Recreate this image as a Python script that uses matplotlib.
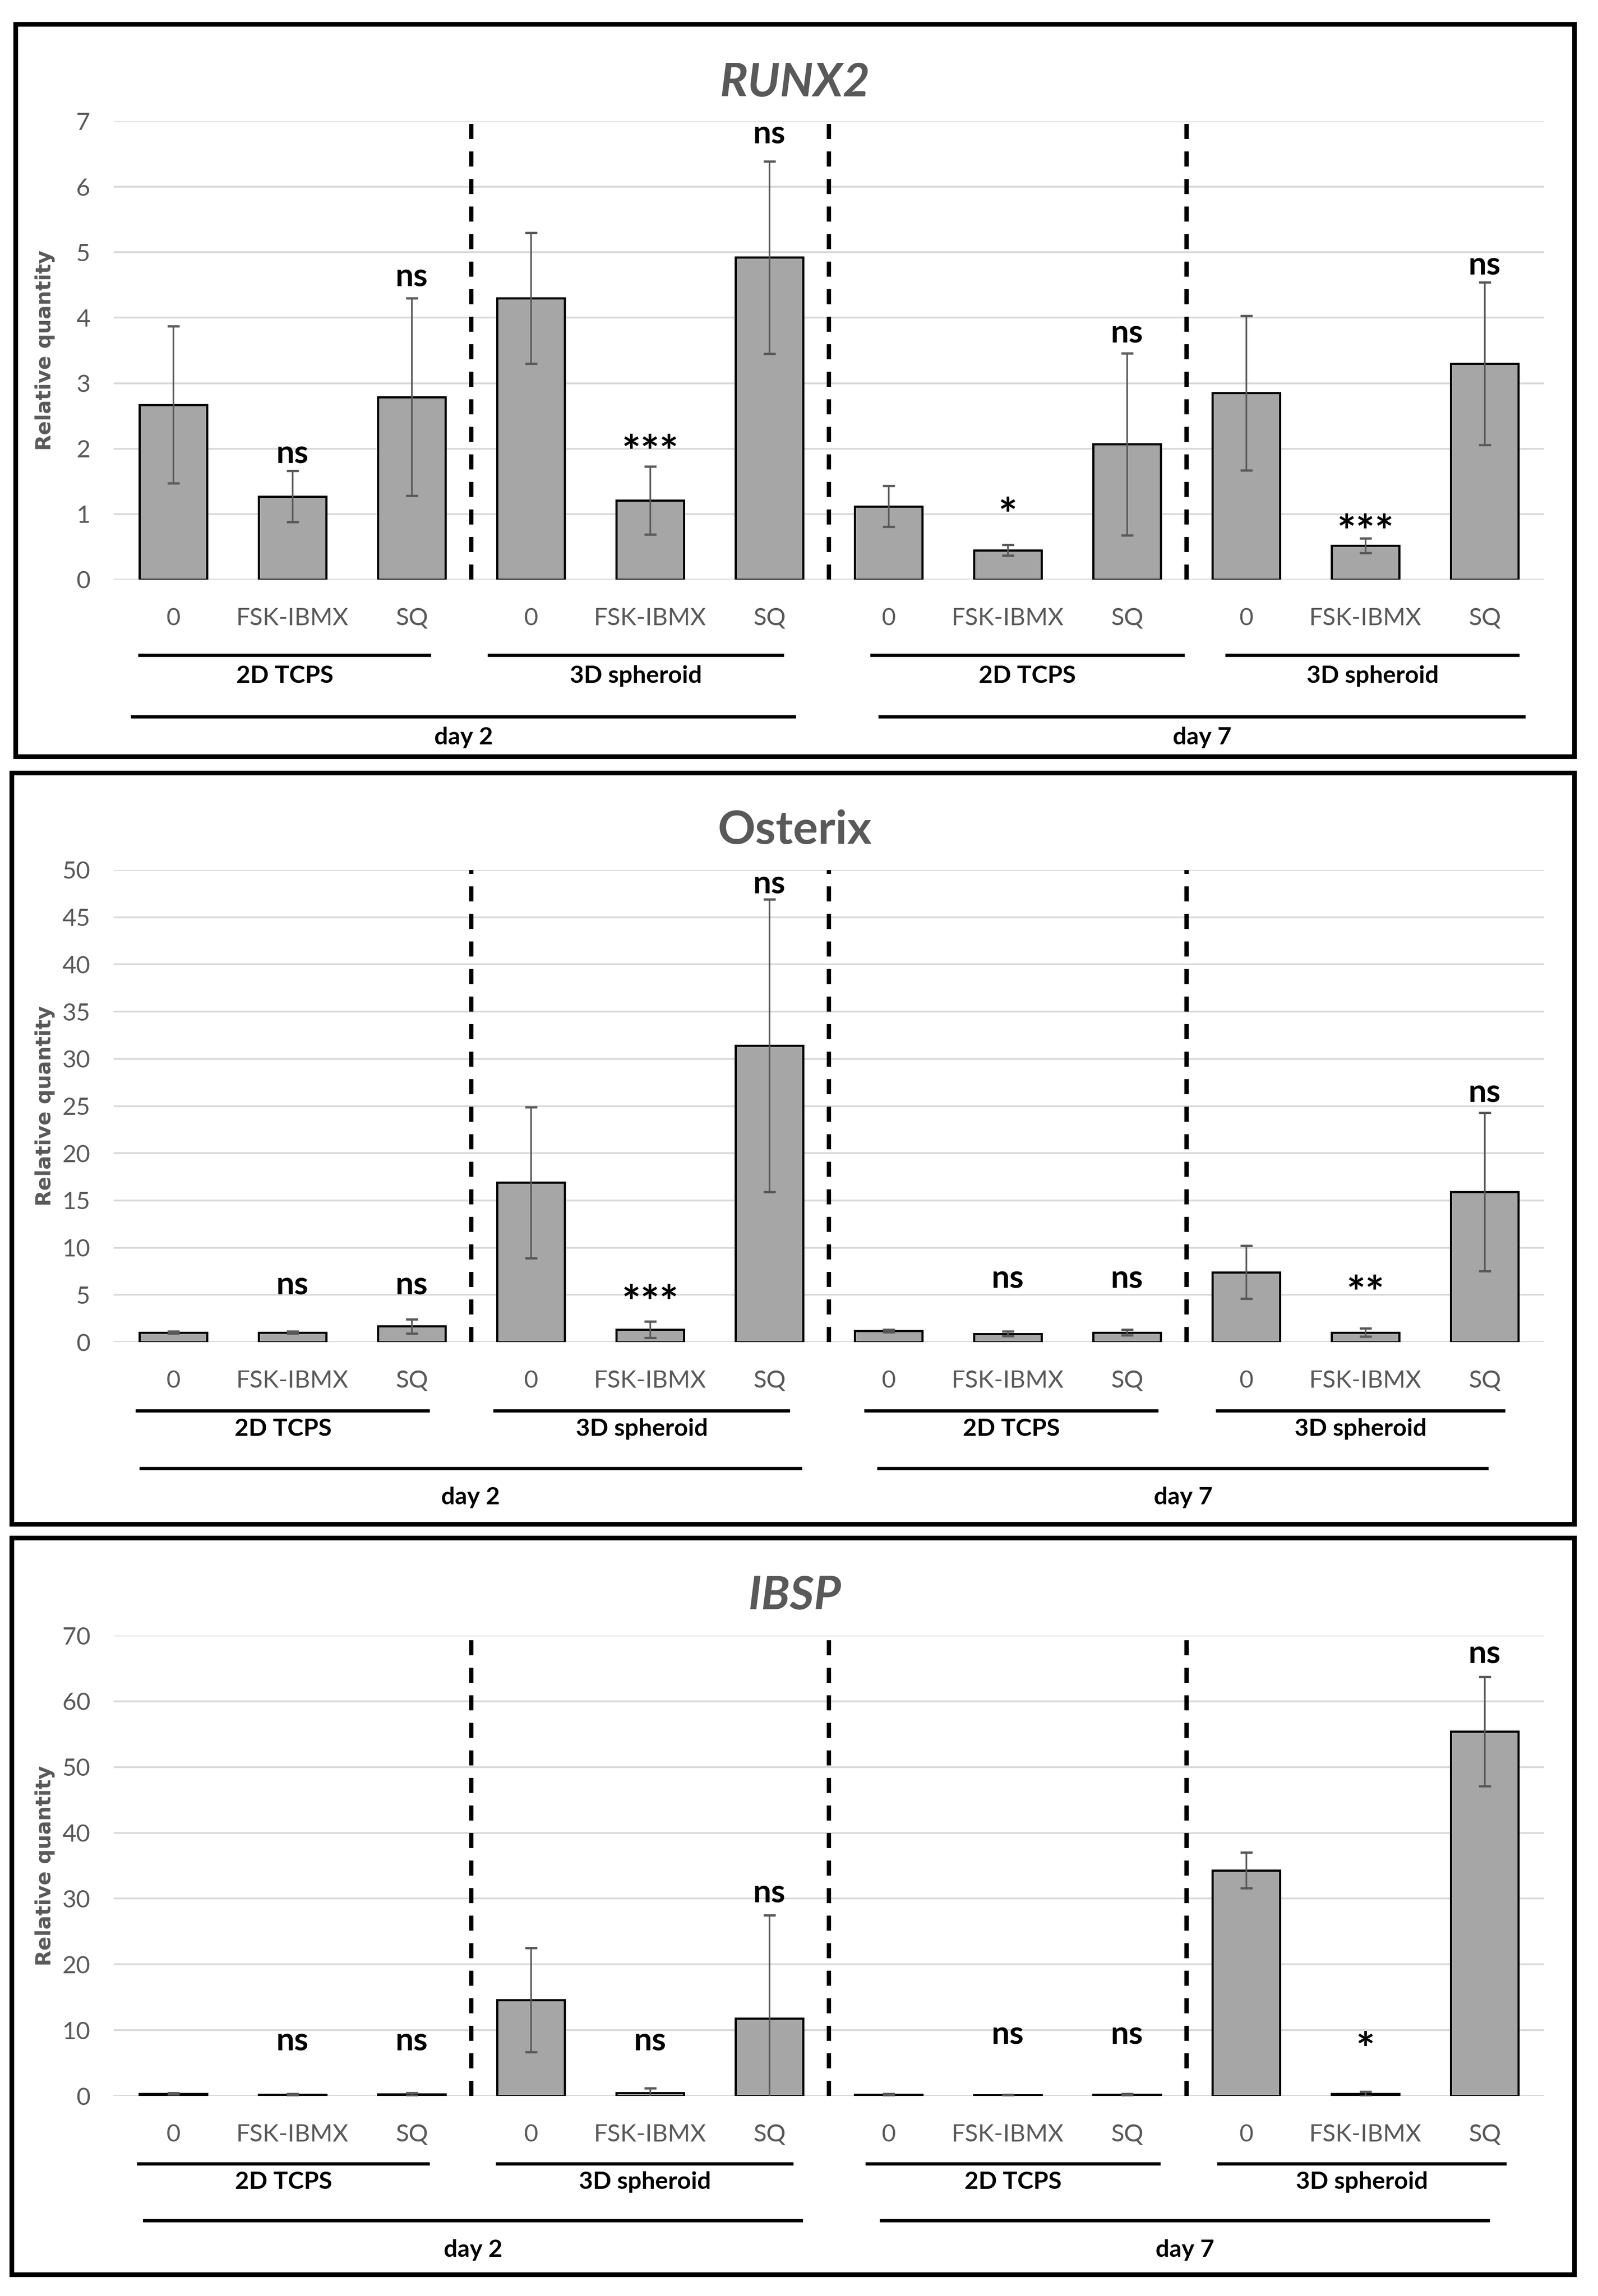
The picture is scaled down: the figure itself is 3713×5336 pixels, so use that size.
import matplotlib
matplotlib.use('Agg')
import numpy as np
import matplotlib.pyplot as plt
from matplotlib.patches import Rectangle
from matplotlib.transforms import blended_transform_factory, offset_copy

# ---- data ----
conditions = ['0', 'FSK-IBMX', 'SQ'] * 4
cultures = ['2D TCPS', '3D spheroid', '2D TCPS', '3D spheroid']
days = ['day 2', 'day 7']

runx2_mean = [2.67, 1.27, 2.79, 4.30, 1.21, 4.92, 1.12, 0.45, 2.07, 2.85, 0.52, 3.30]
runx2_err = [1.20, 0.39, 1.51, 1.00, 0.52, 1.47, 0.31, 0.08, 1.39, 1.18, 0.11, 1.24]
runx2_sig = ['', 'ns', 'ns', '', '***', 'ns', '', '*', 'ns', '', '***', 'ns']
runx2_sig_y = [0, 1.92, 4.62, 0, 2.12, 6.8, 0, 1.16, 3.76, 0, 0.90, 4.8]

osterix_mean = [1.02, 1.02, 1.67, 16.9, 1.32, 31.4, 1.18, 0.88, 1.02, 7.4, 1.02, 15.9]
osterix_err = [0.12, 0.12, 0.75, 8.0, 0.85, 15.5, 0.12, 0.25, 0.30, 2.8, 0.42, 8.4]
osterix_sig = ['', 'ns', 'ns', '', '***', 'ns', '', 'ns', 'ns', '', '**', 'ns']
osterix_sig_y = [0, 6.0, 6.0, 0, 5.4, 48.5, 0, 6.7, 6.7, 0, 6.4, 26.4]

ibsp_mean = [0.35, 0.20, 0.25, 14.6, 0.45, 11.75, 0.20, 0.15, 0.20, 34.3, 0.30, 55.4]
ibsp_err = [0.10, 0.10, 0.20, 7.9, 0.75, 15.7, 0.10, 0.05, 0.15, 2.7, 0.35, 8.3]
ibsp_sig = ['', 'ns', 'ns', '', 'ns', 'ns', '', 'ns', 'ns', '', '*', 'ns']
ibsp_sig_y = [0, 8.3, 8.3, 0, 8.3, 30.8, 0, 9.3, 9.3, 0, 8.8, 67.2]

# ---- layout (pixel positions of the 3713 x 5336 output) ----
W, H = 3713, 5336
DPI = 300
GREY_TXT = '#595959'
FONT = 'Lato'

panels = [
    dict(title='RUNX2', italic=True, mean=runx2_mean, err=runx2_err, sig=runx2_sig, sig_y=runx2_sig_y,
         ymax=7, step=1, ax_top=282, ax_bot=1347, frame=(36, 56, 3658, 1758), title_y=193,
         offs=(176, 224, 319, 367),
         spans=[(-0.28, 2.15), (2.65, 5.11), (5.86, 8.47), (8.84, 11.28)],
         day_spans=[(-0.34, 5.21), (5.93, 11.33)]),
    dict(title='Osterix', italic=False, mean=osterix_mean, err=osterix_err, sig=osterix_sig, sig_y=osterix_sig_y,
         ymax=50, step=5, ax_top=2022, ax_bot=3119, frame=(27, 1796, 3658, 3542), title_y=1930,
         offs=(160, 202, 294, 361),
         spans=[(-0.30, 2.14), (2.70, 5.16), (5.81, 8.25), (8.76, 11.16)],
         day_spans=[(-0.27, 5.26), (5.92, 11.02)]),
    dict(title='IBSP', italic=True, mean=ibsp_mean, err=ibsp_err, sig=ibsp_sig, sig_y=ibsp_sig_y,
         ymax=70, step=10, ax_top=3801, ax_bot=4871, frame=(27, 3574, 3658, 5286), title_y=3709,
         offs=(158, 200, 290, 358),
         spans=[(-0.29, 2.14), (2.72, 5.19), (5.82, 8.27), (8.77, 11.17)],
         day_spans=[(-0.24, 5.27), (5.94, 11.03)]),
]

AX_LEFT, AX_RIGHT = 264, 3588


def fy(y):
    return 1 - y / H


fig = plt.figure(figsize=(W / DPI, H / DPI), dpi=DPI)
fig.patch.set_facecolor('white')

x = np.arange(len(conditions))

for p in panels:
    ax = fig.add_axes([AX_LEFT / W, fy(p['ax_bot']), (AX_RIGHT - AX_LEFT) / W,
                       (p['ax_bot'] - p['ax_top']) / H])
    ax.set_xlim(-0.5, 11.5)
    ax.set_ylim(0, p['ymax'])
    ax.set_axisbelow(True)
    for s in ax.spines.values():
        s.set_visible(False)
    ax.yaxis.grid(True, color='#d9d9d9', lw=1.0)

    ax.bar(x, p['mean'], width=0.57, color='#a6a6a6', edgecolor='black', linewidth=1.2, zorder=2)
    ax.errorbar(x, p['mean'], yerr=p['err'], fmt='none', ecolor='#595959', elinewidth=0.9,
                capsize=3.3, capthick=1.3, zorder=3)

    for xv in (2.5, 5.5, 8.5):
        ax.axvline(xv, color='black', lw=2.4, dashes=(3.5, 2.9), zorder=1.5)

    ax.set_yticks(np.arange(0, p['ymax'] + p['step'] / 2, p['step']))
    ax.set_xticks(x, conditions)
    ax.tick_params(axis='both', length=0, colors=GREY_TXT, labelsize=13.5)
    ax.tick_params(axis='x', pad=15.5)
    ax.tick_params(axis='y', pad=13)
    for lab in ax.get_xticklabels() + ax.get_yticklabels():
        lab.set_family(FONT)

    # significance marks
    for i, (s, sy) in enumerate(zip(p['sig'], p['sig_y'])):
        if not s:
            continue
        if '*' in s:
            tr = offset_copy(ax.transData, fig=fig, y=-7.5, units='points')
            size = 25
        else:
            tr = ax.transData
            size = 18
        ax.text(i, sy, s, ha='center', va='center', fontsize=size, fontweight='bold',
                family=FONT, color='black', transform=tr)

    # group lines and labels below the axis
    btr = blended_transform_factory(ax.transData, fig.transFigure)
    g_line, g_txt, d_line, d_txt = (p['ax_bot'] + o for o in p['offs'])
    for (a, b), lab in zip(p['spans'], cultures):
        ax.plot([a, b], [fy(g_line)] * 2, color='black', lw=1.8, transform=btr, clip_on=False)
        ax.text((a + b) / 2, fy(g_txt), lab, ha='center', va='center', fontsize=13.5,
                fontweight='bold', family=FONT, transform=btr)
    for (a, b), lab in zip(p['day_spans'], days):
        ax.plot([a, b], [fy(d_line)] * 2, color='black', lw=1.8, transform=btr, clip_on=False)
        ax.text((a + b) / 2, fy(d_txt), lab, ha='center', va='center', fontsize=13.5,
                fontweight='bold', family=FONT, transform=btr)

    # title and y label
    fig.text(1847 / W, fy(p['title_y']), p['title'], ha='center', va='center', fontsize=26,
             fontweight='bold', style='italic' if p['italic'] else 'normal', family=FONT,
             color=GREY_TXT)
    fig.text(105 / W, fy((p['ax_top'] + p['ax_bot']) / 2), 'Relative quantity', rotation=90,
             ha='center', va='center', fontsize=11.5, fontweight='bold', family='DejaVu Sans',
             color=GREY_TXT)

    # panel frame
    x0, y0, x1, y1 = p['frame']
    fig.add_artist(Rectangle((x0 / W, fy(y1)), (x1 - x0) / W, (y1 - y0) / H,
                             transform=fig.transFigure, fill=False, lw=2.6, ec='black'))

fig.savefig('out.png', dpi=DPI, facecolor='white')
